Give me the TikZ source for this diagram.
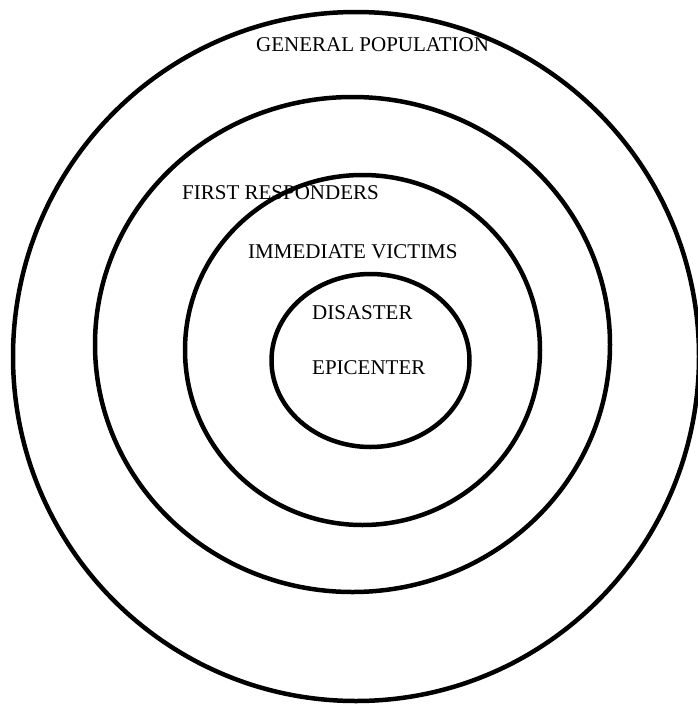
\documentclass[tikz,border=0pt]{standalone}
\usepackage{fontspec}
\setmainfont{Liberation Serif}
\begin{document}
\begin{tikzpicture}[x=1pt,y=-1pt,
  ring/.style={draw=black,line width=4.5pt},
  lbl/.style={anchor=base west,inner sep=0pt,font=\fontsize{21}{25}\selectfont}]
\useasboundingbox (0,0) rectangle (698,705);
\draw[ring] (356,356.5) ellipse [x radius=343pt,y radius=344.5pt];
\draw[ring] (352.5,344.5) ellipse [x radius=257.5pt,y radius=247.5pt];
\draw[ring] (362.5,350) ellipse [x radius=177.5pt,y radius=175pt];
\draw[ring] (370.5,360.5) ellipse [x radius=99pt,y radius=86.5pt];
\node[lbl] (gp) at (256,51) {GENERAL POPULATION};
\node[lbl] (fr) at (182,199) {FIRST RESPONDERS};
\node[lbl] (iv) at (248,258) {IMMEDIATE VICTIMS};
\node[lbl] (ds) at (312,319) {DISASTER};
\node[lbl] (ep) at (312,374) {EPICENTER};
\end{tikzpicture}
\end{document}
